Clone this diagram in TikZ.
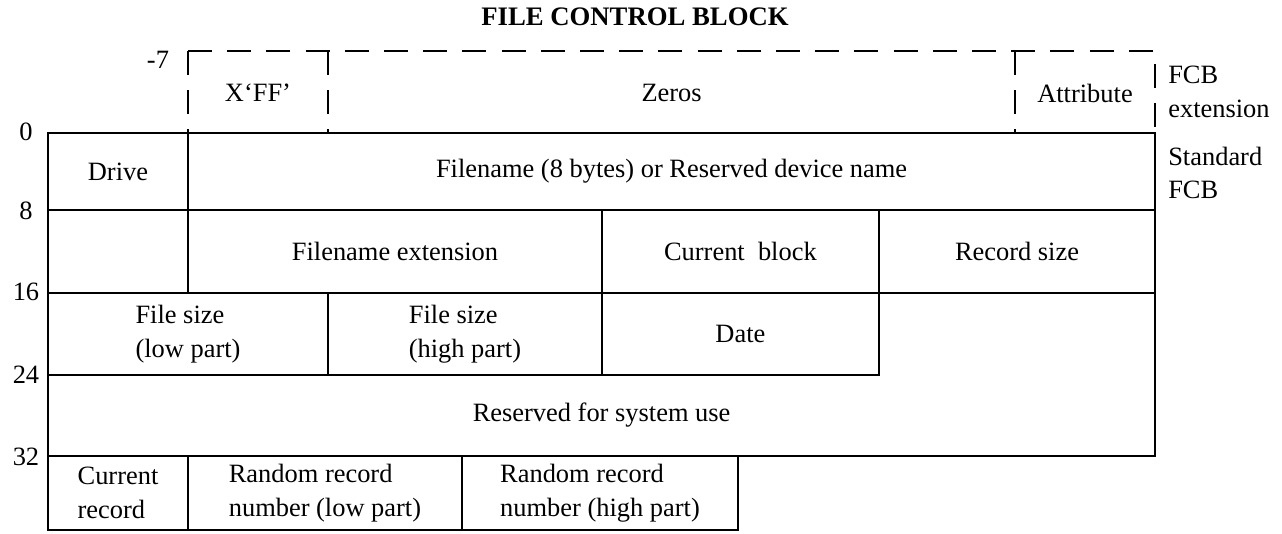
\documentclass[tikz,border=0pt]{standalone}
\usepackage{fontspec}
\setmainfont{Liberation Serif}
\begin{document}
\begin{tikzpicture}
% estilos de linea y texto
\tikzstyle{linea} = [line width=1.8pt,line cap=rect,line join=miter]
\tikzstyle{rayado} = [line width=1.8pt,dash pattern=on 0.6cm off 0.38cm]
\tikzstyle{texto} = [inner sep=0pt,font=\fontsize{18.8}{24}\selectfont]
\tikzstyle{campo} = [texto,align=left]
\tikzstyle{desp} = [texto]
\tikzstyle{titulo} = [inner sep=0pt,font=\fontsize{19}{23}\selectfont\bfseries]
% rotulo de desplazamiento de una fila
% #1: nombre del nodo
% #2: ordenada de la fila
% #3: rotulo
\newcommand{\despfila}[3]{
\node[desp] (#1) at (-0.55,#2) {#3};
}
\useasboundingbox (-1.2,-10.000000) rectangle (30.850000,3.325000);
% titulo
\node[titulo] (tit) at (14.675000,2.900000) {FILE CONTROL BLOCK};
% extension del FCB (rayada)
\begin{scope}
\draw[rayado] (3.500000,2.050000) -- (3.500000,0.000000);
\draw[rayado] (3.500000,2.050000) -- (27.675000,2.050000) -- (27.675000,0.000000);
\draw[rayado] (7.000000,2.050000) -- (7.000000,0.000000);
\draw[rayado] (24.175000,2.050000) -- (24.175000,0.000000);
\end{scope}
% dibujar filas
\begin{scope}
\draw[linea] (27.675000,0.000000) -- (0.000000,0.000000) -- (0.000000,-9.925000) -- (17.250000,-9.925000) -- (17.250000,-8.075000);
\draw[linea] (27.675000,0.000000) -- (27.675000,-8.075000) -- (0.000000,-8.075000);
\draw[linea] (0.000000,-1.925000) -- (27.675000,-1.925000);
\draw[linea] (0.000000,-4.000000) -- (27.675000,-4.000000);
\draw[linea] (0.000000,-6.050000) -- (20.775000,-6.050000);
\end{scope}
% dibujar separaciones
\begin{scope}
\draw[linea] (3.500000,0.000000) -- (3.500000,-4.000000);
\draw[linea] (13.850000,-1.925000) -- (13.850000,-6.050000);
\draw[linea] (20.775000,-1.925000) -- (20.775000,-6.050000);
\draw[linea] (7.000000,-4.000000) -- (7.000000,-6.050000);
\draw[linea] (3.500000,-8.075000) -- (3.500000,-9.925000);
\draw[linea] (10.350000,-8.075000) -- (10.350000,-9.925000);
\end{scope}
% rotulos de desplazamiento
\node[desp] (dm7) at (2.750000,1.825000) {-7};
\despfila{d0}{0.025000}{0}
\despfila{d8}{-1.950000}{8}
\despfila{d16}{-3.975000}{16}
\despfila{d24}{-6.050000}{24}
\despfila{d32}{-8.100000}{32}
% rotulos de los campos
\node[texto] (xff) at (5.250000,1.000000) {X‘FF’};
\node[texto] (cer) at (15.590000,1.000000) {Zeros};
\node[texto] (atr) at (25.925000,1.000000) {Attribute};
\node[campo,anchor=west] (ext) at (28.000000,1.025000) {FCB\\extension};
\node[campo,anchor=west] (std) at (28.000000,-1.000000) {Standard\\FCB};
\node[texto] (dri) at (1.750000,-0.962500) {Drive};
\node[texto] (nom) at (15.590000,-0.962500) {Filename (8 bytes) or Reserved device name};
\node[texto] (enom) at (8.675000,-2.962500) {Filename extension};
\node[texto] (bloq) at (17.310000,-2.962500) {Current\ \ block};
\node[texto] (treg) at (24.225000,-2.962500) {Record size};
\node[campo] (tlow) at (3.500000,-5.025000) {File size\\(low part)};
\node[campo] (thig) at (10.425000,-5.025000) {File size\\(high part)};
\node[texto] (fec) at (17.310000,-5.025000) {Date};
\node[texto] (res) at (13.840000,-7.062500) {Reserved for system use};
\node[campo] (creg) at (1.750000,-9.000000) {Current\\record};
\node[campo] (rlow) at (6.925000,-9.000000) {Random record\\number (low part)};
\node[campo] (rhig) at (13.800000,-9.000000) {Random record\\number (high part)};
\end{tikzpicture}
\end{document}
